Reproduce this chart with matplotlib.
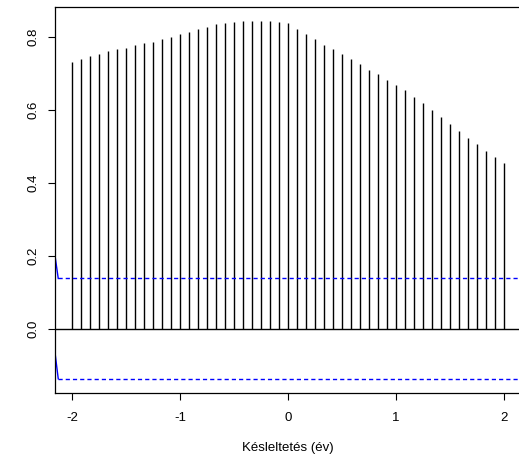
import matplotlib
matplotlib.use("Agg")
import matplotlib.pyplot as plt
import numpy as np

plt.rcParams['font.family'] = ['Liberation Sans', 'DejaVu Sans']
plt.rcParams['lines.scale_dashes'] = False

# cross-correlation by lag (years, monthly steps from -2 to 2)
lags = np.arange(-24, 25) / 12
ccf_vals = [
    0.732, 0.740, 0.747, 0.753, 0.760, 0.766, 0.770, 0.777, 0.782, 0.787,
    0.795, 0.800, 0.807, 0.813, 0.822, 0.828, 0.835, 0.838, 0.841, 0.843,
    0.843, 0.843, 0.843, 0.840, 0.838, 0.823, 0.809, 0.795, 0.779, 0.766,
    0.753, 0.739, 0.726, 0.710, 0.697, 0.683, 0.668, 0.653, 0.636, 0.619,
    0.599, 0.580, 0.561, 0.542, 0.523, 0.506, 0.487, 0.470, 0.453,
]
conf = 0.1375
# the bound lines start a little higher (lower) at the left frame edge
band_x = [-2.16, -2.13, 2.2]
upper_y = [0.200, conf, conf]
lower_y = [-0.066, -conf, -conf]

W, H = 519, 457
fig = plt.figure(figsize=(W / 100, H / 100), dpi=100)
ax = fig.add_axes([55 / W, 1 - 393 / H, 466 / W, 386 / H])

ax.vlines(lags, 0, ccf_vals, color='black', linewidth=1)
ax.axhline(0, color='black', linewidth=1)

for yy in (upper_y, lower_y):
    ax.plot(band_x[:2], yy[:2], color='blue', linewidth=1)
    ax.plot(band_x[1:], yy[1:], color='blue', linewidth=1, dashes=(3, 2.2))

ax.set_xlim(-2.16, 2.16)
ax.set_ylim(-0.1767, 0.882)
ax.set_xticks([-2, -1, 0, 1, 2])
ax.set_xticklabels(['-2', '-1', '0', '1', '2'])
ax.set_yticks([0.0, 0.2, 0.4, 0.6, 0.8])
ax.set_yticklabels(['0.0', '0.2', '0.4', '0.6', '0.8'], rotation=90, va='center')
ax.tick_params(length=5, width=0.8, labelsize=9.5, pad=9)
ax.tick_params(axis='y', pad=6)
for sp in ax.spines.values():
    sp.set_linewidth(0.9)

ax.set_xlabel('Késleltetés (év)', fontsize=9.5, labelpad=13)

fig.savefig('out.png', dpi=100)
